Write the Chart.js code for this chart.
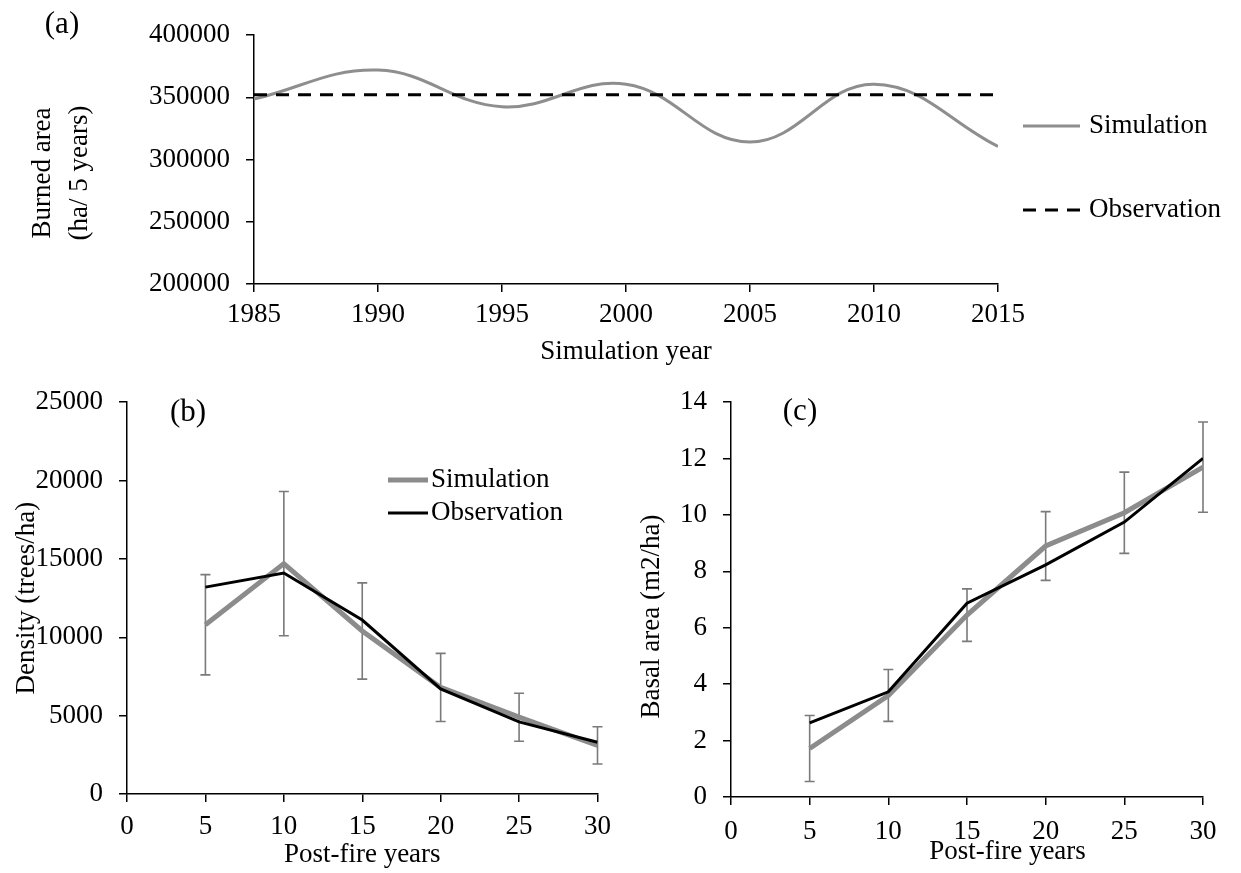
<!DOCTYPE html>
<html>
<head>
<meta charset="utf-8">
<script src="https://cdn.jsdelivr.net/npm/chart.js@4.4.1/dist/chart.umd.min.js"></script>
<style>
  html, body { margin: 0; padding: 0; background: #fff; }
  body { width: 1241px; height: 873px; position: relative; overflow: hidden; }
  canvas { position: absolute; }
</style>
</head>
<body>
<canvas id="chartA" width="1241" height="368" style="left:0;top:0"></canvas>
<canvas id="chartB" width="620" height="503" style="left:0;top:370px"></canvas>
<canvas id="chartC" width="621" height="503" style="left:620px;top:370px"></canvas>
<script>
// (a) burned area per 5 years
const years = [1985, 1990, 1995, 2000, 2005, 2010, 2015];
const burnedSim = [348500, 371800, 342400, 360500, 314000, 360500, 310500];
const burnedObs = [352000, 352000, 352000, 352000, 352000, 352000, 352000];

// (b) and (c) post-fire stand structure
const postYears = [5, 10, 15, 20, 25, 30];
const densitySim = [10800, 14700, 10400, 6800, 4900, 3100];
const densityObs = [13200, 14100, 11100, 6700, 4600, 3300];
const densityErr = [3200, 4600, 3070, 2170, 1530, 1190];
const basalSim = [1.72, 3.6, 6.45, 8.9, 10.08, 11.7];
const basalObs = [2.63, 3.73, 6.87, 8.23, 9.75, 12.01];
const basalErr = [1.17, 0.92, 0.93, 1.22, 1.44, 1.6];

const FONT = '"Liberation Serif", "Times New Roman", serif';
Chart.defaults.font.family = FONT;
Chart.defaults.font.size = 27;
Chart.defaults.color = '#000';
Chart.defaults.animation = false;

const toPoints = (xs, ys) => xs.map((x, i) => ({ x: x, y: ys[i] }));

// vertical error bars around a dataset, drawn through the chart scales
const errorBars = {
  id: 'errorBars',
  beforeDatasetsDraw(chart, args, opts) {
    if (!opts.errors) return;
    const ds = chart.data.datasets[opts.datasetIndex];
    const xs = chart.scales.x, ys = chart.scales.y;
    const ctx = chart.ctx;
    ctx.save();
    ctx.strokeStyle = opts.color;
    ctx.lineWidth = opts.width;
    ds.data.forEach((p, i) => {
      const e = opts.errors[i];
      const x = xs.getPixelForValue(p.x);
      const yt = ys.getPixelForValue(p.y + e);
      const yb = ys.getPixelForValue(p.y - e);
      ctx.beginPath();
      ctx.moveTo(x, yt); ctx.lineTo(x, yb);
      ctx.moveTo(x - opts.cap, yt); ctx.lineTo(x + opts.cap, yt);
      ctx.moveTo(x - opts.cap, yb); ctx.lineTo(x + opts.cap, yb);
      ctx.stroke();
    });
    ctx.restore();
  }
};

// legend with line samples, styled from the datasets
const lineLegend = {
  id: 'lineLegend',
  afterDraw(chart, args, opts) {
    if (!opts.items) return;
    const ctx = chart.ctx;
    ctx.save();
    ctx.font = '27px ' + FONT;
    ctx.textBaseline = 'middle';
    ctx.textAlign = 'left';
    ctx.fillStyle = '#000';
    opts.items.forEach(it => {
      const ds = chart.data.datasets[it.index];
      ctx.strokeStyle = ds.borderColor;
      ctx.lineWidth = ds.borderWidth;
      ctx.setLineDash(ds.borderDash || []);
      ctx.beginPath();
      ctx.moveTo(opts.x, it.y);
      ctx.lineTo(opts.x + opts.lineLength, it.y);
      ctx.stroke();
      ctx.setLineDash([]);
      ctx.fillText(ds.label, opts.x + opts.lineLength + opts.gap, it.y);
    });
    ctx.restore();
  }
};

const panelLabel = {
  id: 'panelLabel',
  afterDraw(chart, args, opts) {
    if (!opts.text) return;
    const ctx = chart.ctx;
    ctx.save();
    ctx.font = '31px ' + FONT;
    ctx.textAlign = 'center';
    ctx.textBaseline = 'middle';
    ctx.fillStyle = '#000';
    ctx.fillText(opts.text, opts.x, opts.y);
    ctx.restore();
  }
};

Chart.register(errorBars, lineLegend, panelLabel);

function axis(o) {
  return {
    type: 'linear',
    min: o.min,
    max: o.max,
    afterFit: o.fit,
    border: { display: true, color: '#000', width: 1.5 },
    grid: { display: true, drawOnChartArea: false, drawTicks: true, tickLength: 8, color: '#000', lineWidth: 1.5 },
    ticks: { stepSize: o.step, padding: o.pad, autoSkip: false, maxRotation: 0, callback: v => String(v) },
    title: { display: true, text: o.title, padding: o.titlePad, font: { size: 27, lineHeight: o.lh || 1.2 } }
  };
}

new Chart(document.getElementById('chartA'), {
  type: 'line',
  data: {
    datasets: [
      { label: 'Simulation', data: toPoints(years, burnedSim), borderColor: '#8e8e8e', borderWidth: 3,
        tension: 0.4, pointRadius: 0, order: 1 },
      { label: 'Observation', data: toPoints(years, burnedObs), borderColor: '#000', borderWidth: 3,
        borderDash: [13, 9], pointRadius: 0, order: 0 }
    ]
  },
  options: {
    responsive: false,
    layout: { padding: { left: 0, top: 35, right: 243, bottom: 0 } },
    plugins: {
      legend: { display: false },
      tooltip: { enabled: false },
      lineLegend: { x: 1023, lineLength: 57, gap: 9, items: [{ index: 0, y: 126 }, { index: 1, y: 210 }] },
      panelLabel: { text: '(a)', x: 62, y: 25 }
    },
    scales: {
      x: axis({ min: 1985, max: 2015, step: 5, pad: 7, title: 'Simulation year',
        titlePad: { top: 0, bottom: 0 }, fit: s => { s.height = 84; } }),
      y: axis({ min: 200000, max: 400000, step: 50000, pad: 16,
        title: ['Burned area    ', '(ha/ 5 years)    '], lh: 1.35,
        titlePad: { top: 25, bottom: 0 }, fit: s => { s.width = 254; } })
    }
  }
});

new Chart(document.getElementById('chartB'), {
  type: 'line',
  data: {
    datasets: [
      { label: 'Simulation', data: toPoints(postYears, densitySim), borderColor: '#8c8c8c', borderWidth: 5,
        tension: 0, pointRadius: 0, order: 1 },
      { label: 'Observation', data: toPoints(postYears, densityObs), borderColor: '#000', borderWidth: 3,
        tension: 0, pointRadius: 0, order: 0 }
    ]
  },
  options: {
    responsive: false,
    layout: { padding: { left: 0, top: 29, right: 13, bottom: 0 } },
    plugins: {
      legend: { display: false },
      tooltip: { enabled: false },
      errorBars: { datasetIndex: 0, errors: densityErr, color: '#7a7a7a', width: 1.6, cap: 5 },
      lineLegend: { x: 388, lineLength: 40, gap: 3, items: [{ index: 0, y: 110 }, { index: 1, y: 143 }] },
      panelLabel: { text: '(b)', x: 188, y: 43 }
    },
    scales: {
      x: axis({ min: 0, max: 30, step: 5, pad: 9, title: 'Post-fire years',
        titlePad: { top: 0, bottom: 2 }, fit: s => { s.height = 79; } }),
      y: axis({ min: 0, max: 25000, step: 5000, pad: 16, title: 'Density (trees/ha)',
        titlePad: { top: 11, bottom: 0 }, fit: s => { s.width = 127; } })
    }
  }
});

new Chart(document.getElementById('chartC'), {
  type: 'line',
  data: {
    datasets: [
      { label: 'Simulation', data: toPoints(postYears, basalSim), borderColor: '#8c8c8c', borderWidth: 5,
        tension: 0, pointRadius: 0, order: 1 },
      { label: 'Observation', data: toPoints(postYears, basalObs), borderColor: '#000', borderWidth: 3,
        tension: 0, pointRadius: 0, order: 0 }
    ]
  },
  options: {
    responsive: false,
    layout: { padding: { left: 0, top: 29, right: 38, bottom: 0 } },
    plugins: {
      legend: { display: false },
      tooltip: { enabled: false },
      errorBars: { datasetIndex: 0, errors: basalErr, color: '#7a7a7a', width: 1.6, cap: 5 },
      panelLabel: { text: '(c)', x: 180, y: 42 }
    },
    scales: {
      x: axis({ min: 0, max: 30, step: 5, pad: 11, title: '            Post-fire years',
        titlePad: { top: 0, bottom: 5 }, fit: s => { s.height = 76; } }),
      y: axis({ min: 0, max: 14, step: 2, pad: 16, title: 'Basal area (m2/ha)     ',
        titlePad: { top: 16, bottom: 0 }, fit: s => { s.width = 111; } })
    }
  }
});
</script>
</body>
</html>
